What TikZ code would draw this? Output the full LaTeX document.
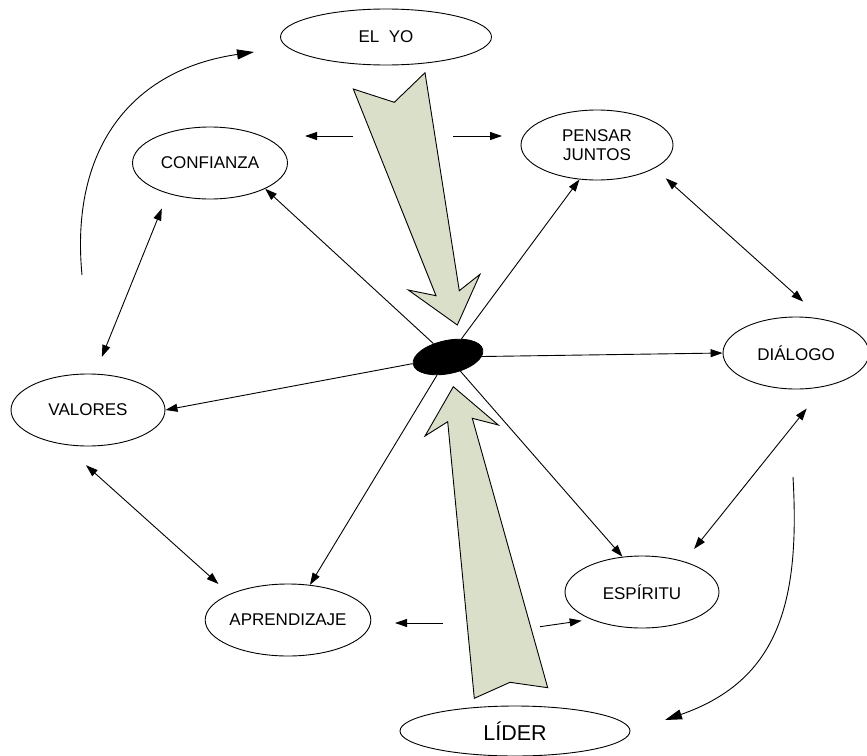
\documentclass[tikz,border=0pt]{standalone}
\usepackage{fontspec}
\setmainfont{Liberation Sans}
\usetikzlibrary{arrows.meta,shapes.geometric}
\definecolor{shaft}{RGB}{218,223,201}
\begin{document}
\begin{tikzpicture}[x=1pt,y=-1pt,
  line width=0.9pt,
  concept/.style={ellipse, draw, inner sep=0pt, align=center,
    font=\fontsize{17}{19}\selectfont},
  link/.style={-{Triangle[length=12pt,width=8pt]}},
  both/.style={{Triangle[length=12pt,width=8pt]}-{Triangle[length=12pt,width=8pt]}},
  sweep/.style={-{Triangle[length=17pt,width=10pt]}},
  bigarrow/.style={draw, fill=shaft, line join=miter}]
\useasboundingbox (0,0) rectangle (867,755);

% concepts around the hub
\node[concept, minimum width=211pt, minimum height=56pt] (yo)   at (386,37)  {EL\ \ YO};
\node[concept, minimum width=155pt, minimum height=72pt] (conf) at (210,163) {CONFIANZA};
\node[concept, minimum width=152pt, minimum height=70pt] (pen)  at (597,145) {PENSAR\\JUNTOS};
\node[concept, minimum width=146pt, minimum height=72pt] (dia)  at (796,353) {DIÁLOGO};
\node[concept, minimum width=154pt, minimum height=72pt] (val)  at (88,410)  {VALORES};
\node[concept, minimum width=154pt, minimum height=72pt] (apr)  at (288,620) {APRENDIZAJE};
\node[concept, minimum width=154pt, minimum height=72pt] (esp)  at (642,592) {ESPÍRITU};
\node[concept, minimum width=230pt, minimum height=50pt,
      font=\fontsize{21.5}{24}\selectfont] (lid) at (515,731) {LÍDER};

% black hub
\node[ellipse, draw, fill=black, inner sep=0pt, minimum width=71pt,
      minimum height=33pt, rotate=12] (c) at (448,357) {};

% spokes
\draw[link] (c) -- (conf.-25);
\draw[link] (c) -- (pen.-117);
\draw[link] (c) -- (dia.west);
\draw[link] (c) -- (val.east);
\draw[link] (c) -- (apr.58);
\draw[link] (c) -- (esp.119);

% ring of two-way links
\draw[both, shorten <=16pt, shorten >=18pt] (conf.-144) -- (val.79);
\draw[both, shorten <=15pt, shorten >=26pt] (pen.-22) -- (dia.52);
\draw[both, shorten <=28pt, shorten >=16pt] (dia.-50) -- (esp.36);
\draw[both, shorten <=31pt, shorten >=15pt] (val.-126) -- (apr.156);

% short side arrows
\coordinate (yoL) at (353,136);   \coordinate (yoLt) at (305,136);
\coordinate (yoR) at (453,136);   \coordinate (yoRt) at (502,136);
\coordinate (liL) at (443,623);   \coordinate (liLt) at (395,623);
\coordinate (liR) at (540,626.7); \coordinate (liRt) at (581.7,620.7);
\draw[link] (yoL) -- (yoLt);
\draw[link] (yoR) -- (yoRt);
\draw[link] (liL) -- (liLt);
\draw[link] (liR) -- (liRt);

% sweeping curves
\coordinate (cvA) at (82,275);  \coordinate (cvAt) at (254,52);
\coordinate (cvB) at (793,477); \coordinate (cvBt) at (665,720);
\draw[sweep] (cvA) .. controls (70,150) and (130,70) .. (cvAt);
\draw[sweep] (cvB) .. controls (800,600) and (780,680) .. (cvBt);

% broad arrows into the hub
\draw[bigarrow] (353.3,89) -- (394.3,102.3) -- (425,72.7) -- (459.3,290.7)
  -- (480,274.3) -- (457.3,325) -- (408.3,290) -- (436,295.7) -- cycle;
\draw[bigarrow] (453.3,386.7) -- (498.3,425) -- (472.3,418.3) -- (547.7,687.7)
  -- (510,682.3) -- (474.3,698.3) -- (447.7,421.7) -- (425,436) -- cycle;
\end{tikzpicture}
\end{document}
